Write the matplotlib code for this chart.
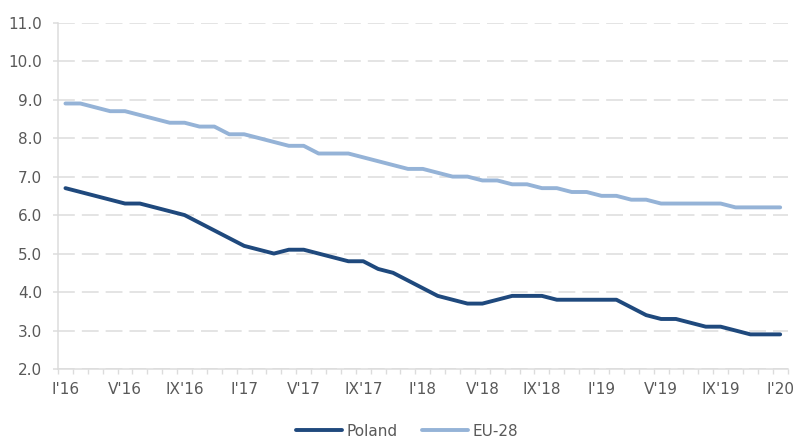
import numpy as np
import matplotlib
matplotlib.use("Agg")
import matplotlib.pyplot as plt

# === Data (monthly, I'16 .. I'20) ===
poland = [6.7, 6.6, 6.5, 6.4, 6.3, 6.3, 6.2, 6.1, 6.0, 5.8,
          5.6, 5.4, 5.2, 5.1, 5.0, 5.1, 5.1, 5.0, 4.9, 4.8,
          4.8, 4.6, 4.5, 4.3, 4.1, 3.9, 3.8, 3.7, 3.7, 3.8,
          3.9, 3.9, 3.9, 3.8, 3.8, 3.8, 3.8, 3.8, 3.6, 3.4,
          3.3, 3.3, 3.2, 3.1, 3.1, 3.0, 2.9, 2.9, 2.9]
eu28 = [8.9, 8.9, 8.8, 8.7, 8.7, 8.6, 8.5, 8.4, 8.4, 8.3,
        8.3, 8.1, 8.1, 8.0, 7.9, 7.8, 7.8, 7.6, 7.6, 7.6,
        7.5, 7.4, 7.3, 7.2, 7.2, 7.1, 7.0, 7.0, 6.9, 6.9,
        6.8, 6.8, 6.7, 6.7, 6.6, 6.6, 6.5, 6.5, 6.4, 6.4,
        6.3, 6.3, 6.3, 6.3, 6.3, 6.2, 6.2, 6.2, 6.2]
tick_labels = ["I'16", "V'16", "IX'16", "I'17", "V'17", "IX'17", "I'18",
               "V'18", "IX'18", "I'19", "V'19", "IX'19", "I'20"]

plt.rcParams['font.family'] = ['Liberation Sans Narrow', 'DejaVu Sans']

x = np.arange(len(poland))
grid_col = "#DCDCDC"
text_col = "#595959"

fig = plt.figure(figsize=(7.98, 4.37), dpi=100)
ax = fig.add_axes([0.0727, 0.1556, 0.9143, 0.7925])

ax.plot(x, poland, color="#1F497D", lw=2.8, solid_capstyle="round", label="Poland", zorder=3)
ax.plot(x, eu28, color="#95B3D7", lw=2.8, solid_capstyle="round", label="EU-28", zorder=3)

ax.set_xlim(-0.5, len(x) - 0.5)
ax.set_ylim(2.0, 11.0)
yt = np.arange(2.0, 11.01, 1.0)
ax.set_yticks(yt)
ax.set_yticklabels([f"{v:.1f}" for v in yt])

ax.set_xticks(x[::4])
ax.set_xticklabels(tick_labels)
ax.set_xticks(np.arange(-0.5, len(x)), minor=True)
ax.tick_params(axis="x", which="major", length=0, pad=9, labelsize=11, colors=text_col)
ax.tick_params(axis="x", which="minor", length=3.6, color=grid_col, width=1)
ax.tick_params(axis="y", length=3.6, width=1.1, color=grid_col, pad=8, labelsize=11,
               labelcolor=text_col)

ax.grid(axis="y", color=grid_col, linestyle=(0, (11, 4.6)), linewidth=1.1, zorder=0)
for s in ["top", "right"]:
    ax.spines[s].set_visible(False)
for s in ["left", "bottom"]:
    ax.spines[s].set_color(grid_col)
    ax.spines[s].set_linewidth(1.1)

fig.legend(loc="lower center", bbox_to_anchor=(0.51, -0.035), ncol=2, frameon=False,
           fontsize=11, handlelength=3.0, columnspacing=1.6, handletextpad=0.3,
           labelcolor=text_col)

fig.savefig("out.png", dpi=100)
